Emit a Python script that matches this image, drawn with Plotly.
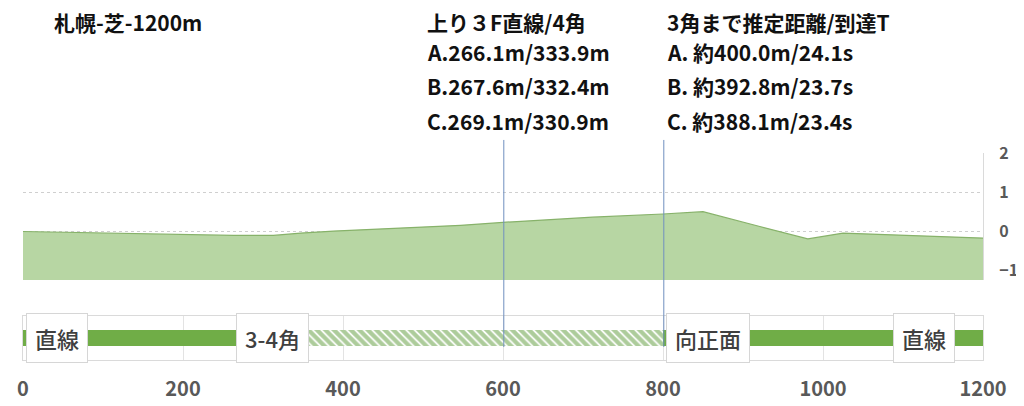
import plotly.graph_objects as go

# elevation profile (m from start, relative height m)
dist = [0, 25, 84, 150, 213, 263, 313, 347, 388, 422, 472, 547, 612, 712, 800,
        850, 921, 981, 1025, 1084, 1138, 1200]
elev = [0.0, -0.01, -0.03, -0.05, -0.08, -0.1, -0.1, -0.04, 0.01, 0.04, 0.08,
        0.16, 0.25, 0.37, 0.45, 0.51, 0.13, -0.19, -0.04, -0.09, -0.13, -0.17]
elev_floor = -1.25

# course sections (straight / corner)
seg_start = [0, 268, 800]
seg_end = [268, 800, 1200]
seg_corner = [False, True, False]

section_labels = ["直線", "3-4角", "向正面", "直線"]
section_label_x = [42, 312, 856, 1126]

# vertical markers
marker_dist = [601, 801]

title_text = "札幌-芝-1200m"
col1 = ["上り３F直線/4角", "A.266.1m/333.9m", "B.267.6m/332.4m", "C.269.1m/330.9m"]
col2 = ["3角まで推定距離/到達T", "A. 約400.0m/24.1s", "B. 約392.8m/23.7s", "C. 約388.1m/23.4s"]

GREEN = "#70ad47"
FONT = "Noto Sans CJK JP"

fig = go.Figure()

# baseline for the filled area
fig.add_trace(go.Scatter(x=dist, y=[elev_floor] * len(dist), mode="lines",
                         line=dict(width=0), hoverinfo="skip", showlegend=False,
                         xaxis="x", yaxis="y"))
fig.add_trace(go.Scatter(x=dist, y=elev, mode="lines", fill="tonexty",
                         fillcolor="rgb(183,214,163)",
                         line=dict(color="rgb(135,178,106)", width=1.2),
                         showlegend=False, xaxis="x", yaxis="y"))

# track sections
for s, e, corner in zip(seg_start, seg_end, seg_corner):
    if corner:
        marker = dict(color="white",
                      pattern=dict(shape="\\", fgcolor="#5c9a38", bgcolor="white",
                                   size=6, solidity=0.7),
                      line=dict(width=0))
    else:
        marker = dict(color=GREEN, line=dict(width=0))
    fig.add_trace(go.Bar(x=[e - s], base=[s], y=[0], orientation="h",
                         width=0.36, marker=marker, showlegend=False,
                         xaxis="x2", yaxis="y2"))

for m in marker_dist:
    fig.add_shape(type="line", x0=m, x1=m, xref="x", y0=0.063, y1=1.063,
                  yref="paper", line=dict(color="#6f8fbf", width=1))

for txt, xv in zip(section_labels, section_label_x):
    fig.add_annotation(x=xv, y=0, xref="x2", yref="y2", text=txt,
                       showarrow=False, bgcolor="white", bordercolor="#d6d6d6",
                       borderwidth=1, borderpad=8,
                       font=dict(family=FONT, size=22, color="#404040",
                                 weight=500))

row_y = [1.633, 1.49, 1.324, 1.155]

fig.add_annotation(x=36, y=row_y[0], xref="x", yref="paper", text=title_text,
                   showarrow=False, xanchor="left", yanchor="middle",
                   font=dict(family=FONT, size=21, color="#111111", weight="bold"))

for xv, col in ((503, col1), (803, col2)):
    for yv, txt in zip(row_y, col):
        fig.add_annotation(x=xv, y=yv, xref="x", yref="paper", text=txt,
                           showarrow=False, xanchor="left", yanchor="middle",
                           font=dict(family=FONT, size=21, color="#111111",
                                     weight="bold"))

# the page body adds an 8px margin, so the figure is shifted by 8px
fig.update_layout(
    width=1016, height=398,
    margin=dict(l=15, r=41, t=145, b=46, autoexpand=False),
    paper_bgcolor="white", plot_bgcolor="white",
    barmode="overlay",
    xaxis=dict(range=[0, 1200], showticklabels=False, showgrid=False,
               zeroline=False, showline=False, anchor="y", automargin=False),
    yaxis=dict(domain=[0.386, 1], range=[elev_floor, 2.02], side="right",
               tickvals=[-1, 0, 1, 2], showgrid=True, gridcolor="#cfcfcf",
               griddash="dot", zeroline=False, showline=True,
               linecolor="#dadada", ticks="", ticklabelstandoff=12,
               automargin=False,
               tickfont=dict(family=FONT, size=16, color="#595959", weight="bold"),
               anchor="x"),
    xaxis2=dict(range=[0, 1200], tickvals=[0, 200, 400, 600, 800, 1000, 1200],
                showgrid=True, gridcolor="#e3e3e3", zeroline=False,
                showline=True, linecolor="#dadada", mirror=True, ticks="",
                ticklabelstandoff=11, automargin=False,
                tickfont=dict(family=FONT, size=20, color="#595959", weight="bold"),
                anchor="y2"),
    yaxis2=dict(domain=[0, 0.2126], range=[-0.5, 0.5], showticklabels=False,
                showgrid=False, zeroline=False, showline=True,
                linecolor="#dadada", mirror=True, anchor="x2", automargin=False),
)

fig.write_html("out.html")
